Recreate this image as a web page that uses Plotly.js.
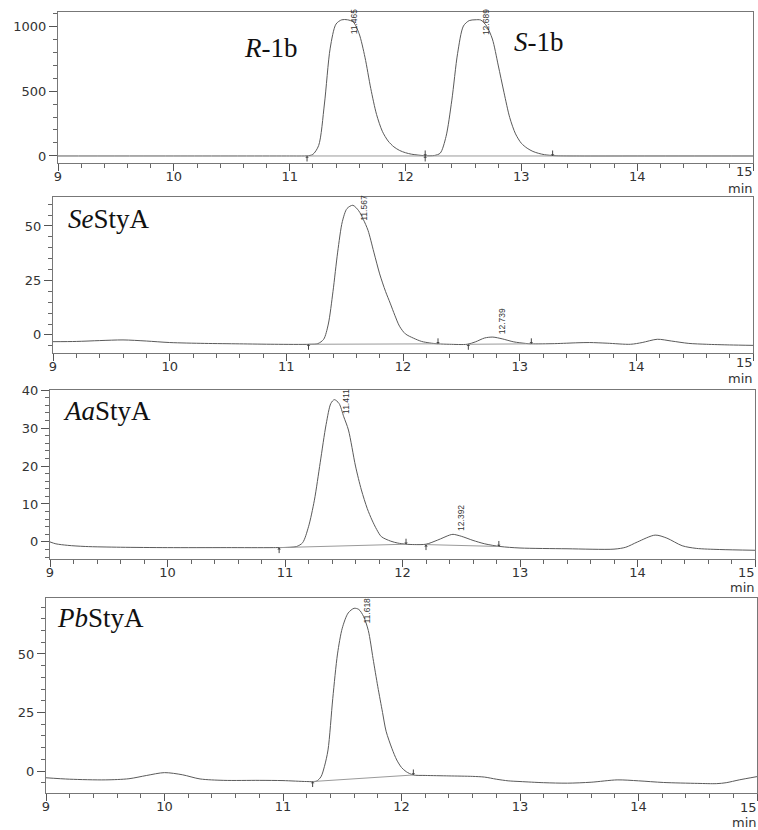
<!DOCTYPE html>
<html>
<head>
<meta charset="utf-8">
<script src="https://cdn.plot.ly/plotly-3.0.1.min.js"></script>
<style>html,body{margin:0;padding:0;background:#fff}#chart{width:758px;height:830px}</style>
</head>
<body>
<div id="chart"></div>
<script>
// ---------- DATA ----------
// Panel 1: racemic standard R-1b / S-1b
var p1Time   = [9.0, 10.0, 11.0, 11.1, 11.15, 11.2, 11.25, 11.3, 11.35, 11.4, 11.45, 11.5, 11.55, 11.6, 11.65, 11.7, 11.75, 11.8, 11.85, 11.9, 11.95, 12.0, 12.05, 12.1, 12.17, 12.25, 12.3, 12.35, 12.4, 12.45, 12.5, 12.55, 12.6, 12.65, 12.7, 12.75, 12.8, 12.85, 12.9, 12.95, 13.0, 13.05, 13.1, 13.15, 13.2, 13.3, 13.5, 14.0, 15.0];
var p1Signal = [0, 0, 0, 0, 1, 12, 80, 400, 830, 1015, 1048, 1048, 1030, 940, 760, 520, 320, 190, 115, 70, 42, 25, 14, 8, 2, 4, 22, 150, 430, 790, 1000, 1042, 1048, 1046, 1000, 900, 700, 490, 295, 170, 98, 60, 35, 20, 10, 2, 0, 0, 0];
var p1BaseT = [11.15, 12.17, null, 12.17, 13.27, null, 13.27, 15.0];
var p1BaseY = [0, 0, null, 0, 0, null, 0, 0];
var p1UpT = [11.15, 12.17], p1UpY = [0, 0];
var p1DownT = [12.17, 13.27], p1DownY = [0, 0];
var p1PeakRT = [11.465, 12.689], p1PeakY = [1048, 1048];

// Panel 2: SeStyA
var p2Time   = [9.0, 9.2, 9.4, 9.6, 9.8, 10.0, 10.3, 10.6, 10.9, 11.2, 11.27, 11.32, 11.36, 11.4, 11.44, 11.48, 11.52, 11.57, 11.62, 11.66, 11.7, 11.75, 11.8, 11.85, 11.89, 11.93, 11.97, 12.02, 12.09, 12.16, 12.23, 12.3, 12.4, 12.55, 12.62, 12.7, 12.77, 12.85, 12.95, 13.05, 13.1, 13.3, 13.5, 13.6, 13.75, 13.95, 14.05, 14.18, 14.3, 14.45, 14.6, 14.8, 15.0];
var p2Signal = [-3.1, -3.0, -2.6, -2.3, -2.8, -3.5, -3.9, -4.1, -4.3, -4.3, -4.0, -2.0, 5, 20, 38, 52, 58, 59.5, 57, 53, 48, 38, 28, 20, 14.6, 9, 4, 0.5, -1.5, -3.0, -3.7, -4.1, -4.3, -4.3, -3.2, -1.4, -1.0, -1.8, -3.2, -3.9, -4.1, -4.0, -3.6, -3.5, -3.8, -4.3, -3.5, -2.0, -2.8, -3.9, -4.3, -4.6, -4.8];
var p2BaseT = [11.19, 12.3, null, 12.56, 13.1];
var p2BaseY = [-4.3, -4.1, null, -4.3, -4.1];
var p2UpT = [11.19, 12.56], p2UpY = [-4.3, -4.3];
var p2DownT = [12.3, 13.1], p2DownY = [-4.1, -4.1];
var p2PeakRT = [11.567, 12.739], p2PeakY = [59.5, -1.0];

// Panel 3: AaStyA
var p3Time   = [9.0, 9.05, 9.15, 9.3, 9.6, 10.0, 10.5, 10.9, 11.05, 11.1, 11.15, 11.2, 11.25, 11.3, 11.35, 11.39, 11.42, 11.46, 11.5, 11.54, 11.6, 11.65, 11.7, 11.74, 11.78, 11.82, 11.9, 11.96, 12.03, 12.1, 12.2, 12.3, 12.4, 12.43, 12.5, 12.6, 12.7, 12.83, 13.0, 13.4, 13.8, 13.9, 14.0, 14.15, 14.25, 14.38, 14.5, 14.7, 15.0];
var p3Signal = [0, -0.5, -0.9, -1.2, -1.4, -1.5, -1.5, -1.5, -1.4, -1.2, -0.2, 4, 11, 21, 31, 36.5, 37.5, 36.5, 33, 29.5, 20, 13.7, 8.8, 5.8, 3.3, 1.4, 0.2, -0.3, -0.6, -0.7, -0.6, 0.5, 1.8, 2.0, 1.5, 0.4, -0.5, -1.2, -1.6, -1.8, -1.9, -1.4, 0, 1.8, 1.0, -1.0, -1.7, -2.0, -2.2];
var p3BaseT = [10.95, 12.03, null, 12.2, 12.82];
var p3BaseY = [-1.5, -0.6, null, -0.7, -1.2];
var p3UpT = [10.95, 12.2], p3UpY = [-1.5, -0.7];
var p3DownT = [12.03, 12.82], p3DownY = [-0.6, -1.2];
var p3PeakRT = [11.411, 12.392], p3PeakY = [37.5, 2.0];

// Panel 4: PbStyA
var p4Time   = [9.0, 9.2, 9.5, 9.7, 9.85, 10.0, 10.15, 10.3, 10.5, 10.8, 11.0, 11.2, 11.28, 11.32, 11.35, 11.38, 11.42, 11.46, 11.5, 11.55, 11.6, 11.64, 11.68, 11.72, 11.76, 11.8, 11.84, 11.87, 11.92, 11.96, 12.0, 12.04, 12.1, 12.2, 12.4, 12.6, 12.7, 12.8, 12.9, 13.0, 13.2, 13.4, 13.6, 13.82, 14.0, 14.21, 14.5, 14.66, 14.74, 14.85, 15.0];
var p4Signal = [-2.9, -3.5, -3.8, -3.3, -1.9, -0.7, -1.6, -3.4, -4.0, -4.0, -4.1, -4.5, -4.4, -2.5, 2, 9, 31, 50, 61, 67.5, 69.5, 69, 66, 60, 48, 36, 25, 17, 9.5, 4.7, 1.5, -0.3, -1.7, -1.9, -2.1, -2.3, -2.6, -3.5, -4.2, -4.5, -5.0, -5.2, -4.8, -3.8, -4.2, -4.9, -5.3, -5.4, -5.0, -3.8, -2.4];
var p4BaseT = [11.25, 12.1];
var p4BaseY = [-4.5, -1.7];
var p4UpT = [11.25], p4UpY = [-4.5];
var p4DownT = [12.1], p4DownY = [-1.7];
var p4PeakRT = [11.618], p4PeakY = [69.5];

var xTickVals = [9, 10, 11, 12, 13, 14, 15];
var xTickText = ['9', '10', '11', '12', '13', '14', '15'];
var xUnit = 'min';
var panelNames = ['', '<i>Se</i>StyA', '<i>Aa</i>StyA', '<i>Pb</i>StyA'];

// ---------- LAYOUT HELPERS ----------
var W = 758, H = 830;
function xd(l, r) { return [l / W, r / W]; }
function yd(t, b) { return [1 - b / H, 1 - t / H]; }

var panels = [
  {x: [58, 753], y: [12, 163], yr: [-54, 1108], dt: 500, mdt: 100,
   t: p1Time, s: p1Signal, bt: p1BaseT, by: p1BaseY, ut: p1UpT, uy: p1UpY, dtT: p1DownT, dy: p1DownY,
   prt: p1PeakRT, py: p1PeakY, pmode: ['tall', 'tall'], pxs: [10, 0], lastY: 172, minY: 188},
  {x: [53, 753], y: [197, 353], yr: [-8.3, 63.3], dt: 25, mdt: 5,
   t: p2Time, s: p2Signal, bt: p2BaseT, by: p2BaseY, ut: p2UpT, uy: p2UpY, dtT: p2DownT, dy: p2DownY,
   prt: p2PeakRT, py: p2PeakY, pmode: ['tall', 'small'], pxs: [12, 13], lastY: 362, minY: 378},
  {x: [50, 755], y: [390, 559], yr: [-4.5, 40.05], dt: 10, mdt: 2,
   t: p3Time, s: p3Signal, bt: p3BaseT, by: p3BaseY, ut: p3UpT, uy: p3UpY, dtT: p3DownT, dy: p3DownY,
   prt: p3PeakRT, py: p3PeakY, pmode: ['tall', 'small'], pxs: [12, 13], lastY: 572, minY: 587},
  {x: [46, 757], y: [598, 793], yr: [-9.4, 73.9], dt: 25, mdt: 5,
   t: p4Time, s: p4Signal, bt: p4BaseT, by: p4BaseY, ut: p4UpT, uy: p4UpY, dtT: p4DownT, dy: p4DownY,
   prt: p4PeakRT, py: p4PeakY, pmode: ['tall'], pxs: [11], lastY: 807, minY: 822}
];

var tickFont = {family: 'DejaVu Sans, Liberation Sans, Arial, sans-serif', size: 13, color: '#333'};
var traces = [];
var layout = {
  width: W, height: H,
  margin: {l: 0, r: 0, t: 0, b: 0},
  paper_bgcolor: '#fff', plot_bgcolor: '#fff',
  showlegend: false,
  annotations: []
};

function markArrow(xa, ya, x, y, up) {
  return {x: x, y: y, xref: xa, yref: ya, text: '', showarrow: true,
    ax: 0, ay: up ? 7 : -7, axref: 'pixel', ayref: 'pixel',
    arrowhead: 1, arrowsize: 0.6, arrowwidth: 1, arrowcolor: '#444', standoff: 0};
}

panels.forEach(function (p, i) {
  var n = i + 1;
  var xa = 'x' + (n === 1 ? '' : n), ya = 'y' + (n === 1 ? '' : n);
  var xk = 'xaxis' + (n === 1 ? '' : n), yk = 'yaxis' + (n === 1 ? '' : n);
  traces.push({x: p.t, y: p.s, xaxis: xa, yaxis: ya, type: 'scatter', mode: 'lines',
    line: {color: '#5a5a5a', width: 1, shape: 'spline', smoothing: 0.8}, hoverinfo: 'skip'});
  traces.push({x: p.bt, y: p.by, xaxis: xa, yaxis: ya, type: 'scatter', mode: 'lines',
    line: {color: '#9a9a9a', width: 1}, hoverinfo: 'skip', connectgaps: false});

  p.ut.forEach(function (t, j) { layout.annotations.push(markArrow(xa, ya, t, p.uy[j], true)); });
  p.dtT.forEach(function (t, j) { layout.annotations.push(markArrow(xa, ya, t, p.dy[j], false)); });

  // the last tick label sits flush with the frame's right edge (drawn as annotation below)
  var shownText = xTickText.map(function (s, k) { return k === xTickText.length - 1 ? '' : s; });
  layout[xk] = {
    domain: xd(p.x[0], p.x[1]), anchor: ya, range: [9, 15],
    tickvals: xTickVals, ticktext: shownText,
    ticks: 'outside', ticklen: 7, tickcolor: '#555', tickwidth: 1,
    ticklabelstandoff: -6,
    minor: {dtick: 0.2, tick0: 9, ticks: 'outside', ticklen: 4, tickcolor: '#666', showgrid: false},
    showline: true, linecolor: '#777', linewidth: 1, mirror: true,
    showgrid: false, zeroline: false, tickfont: tickFont, fixedrange: true
  };
  layout[yk] = {
    domain: yd(p.y[0], p.y[1]), anchor: xa, range: p.yr,
    tick0: 0, dtick: p.dt,
    ticks: 'outside', ticklen: 8, tickcolor: '#555', tickwidth: 1,
    ticklabeloverflow: 'allow',
    minor: {dtick: p.mdt, tick0: 0, ticks: 'outside', ticklen: 4, tickcolor: '#666', showgrid: false},
    showline: true, linecolor: '#777', linewidth: 1, mirror: true,
    showgrid: false, zeroline: false, tickfont: tickFont, fixedrange: true
  };

  // retention-time labels
  p.prt.forEach(function (rt, j) {
    var tall = p.pmode[j] === 'tall';
    layout.annotations.push({
      x: rt, y: p.py[j], xref: xa, yref: ya, text: rt.toFixed(3), showarrow: false,
      textangle: -90, xanchor: 'center', yanchor: tall ? 'middle' : 'bottom',
      xshift: p.pxs[j], yshift: tall ? -2 : 1,
      font: {family: 'Liberation Sans Narrow, Arial Narrow, Liberation Sans, sans-serif', size: 8.5, color: '#333'}
    });
  });

  // last tick label "15" and the "min" unit below it
  layout.annotations.push({
    x: (p.x[1] + 1) / W, y: 1 - p.lastY / H, xref: 'paper', yref: 'paper', text: xTickText[xTickText.length - 1],
    showarrow: false, xanchor: 'right', yanchor: 'middle', borderpad: 0, font: tickFont
  });
  layout.annotations.push({
    x: (p.x[1] + 1) / W, y: 1 - p.minY / H, xref: 'paper', yref: 'paper', text: xUnit,
    showarrow: false, xanchor: 'right', yanchor: 'middle', borderpad: 0, font: tickFont
  });
});

// Panel names
var serif = {family: 'Liberation Serif, Times New Roman, serif', size: 27, color: '#111'};
layout.annotations.push({x: 271 / W, y: 1 - 48 / H, xref: 'paper', yref: 'paper', text: '<i>R</i>-1b',
  showarrow: false, xanchor: 'center', yanchor: 'middle', font: serif});
layout.annotations.push({x: 539 / W, y: 1 - 42 / H, xref: 'paper', yref: 'paper', text: '<i>S</i>-1b',
  showarrow: false, xanchor: 'center', yanchor: 'middle', font: serif});
layout.annotations.push({x: 66 / W, y: 1 - 219 / H, xref: 'paper', yref: 'paper', text: panelNames[1],
  showarrow: false, xanchor: 'left', yanchor: 'middle', font: serif});
layout.annotations.push({x: 61 / W, y: 1 - 411 / H, xref: 'paper', yref: 'paper', text: panelNames[2],
  showarrow: false, xanchor: 'left', yanchor: 'middle', font: serif});
layout.annotations.push({x: 55 / W, y: 1 - 618 / H, xref: 'paper', yref: 'paper', text: panelNames[3],
  showarrow: false, xanchor: 'left', yanchor: 'middle', font: serif});

Plotly.newPlot('chart', traces, layout, {staticPlot: true, displayModeBar: false});
</script>
</body>
</html>
